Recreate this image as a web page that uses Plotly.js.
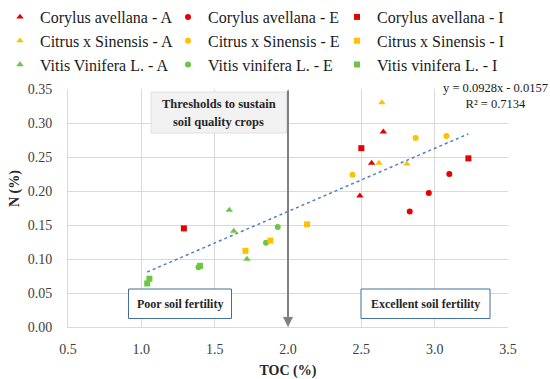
<!DOCTYPE html>
<html>
<head>
<meta charset="utf-8">
<script src="https://cdn.plot.ly/plotly-3.0.1.min.js"></script>
<style>html,body{margin:0;padding:0;background:#fff;}#chart{width:550px;height:379px;}</style>
</head>
<body>
<div id="chart"></div>
<script>
// ---- data ----
var seriesNames = [
  "Corylus avellana - A", "Citrus x Sinensis - A", "Vitis Vinifera L. - A",
  "Corylus avellana - E", "Citrus x Sinensis - E", "Vitis vinifera L. - E",
  "Corylus avellana - I", "Citrus x Sinensis - I", "Vitis vinifera L. - I"
];
var corylusA_x = [2.49, 2.57, 2.65];  var corylusA_y = [0.193, 0.241, 0.287];
var citrusA_x  = [2.62, 2.64, 2.81];  var citrusA_y  = [0.241, 0.330, 0.240];
var vitisA_x   = [1.60, 1.63, 1.72];  var vitisA_y   = [0.172, 0.141, 0.100];
var corylusE_x = [2.83, 2.96, 3.10];  var corylusE_y = [0.170, 0.197, 0.225];
var citrusE_x  = [2.44, 2.87, 3.08];  var citrusE_y  = [0.224, 0.278, 0.281];
var vitisE_x   = [1.39, 1.85, 1.93];  var vitisE_y   = [0.088, 0.124, 0.147];
var corylusI_x = [1.29, 2.50, 3.23];  var corylusI_y = [0.145, 0.263, 0.248];
var citrusI_x  = [1.71, 1.88, 2.13];  var citrusI_y  = [0.112, 0.127, 0.151];
var vitisI_x   = [1.04, 1.055, 1.40]; var vitisI_y   = [0.064, 0.071, 0.090];
var trendSlope = 0.0928;
var trendIntercept = -0.0157;
var trendR2 = 0.7134;
var thresholdTOC = 2.0;
var xTicks = [0.5, 1.0, 1.5, 2.0, 2.5, 3.0, 3.5];
var yTicks = [0.00, 0.05, 0.10, 0.15, 0.20, 0.25, 0.30, 0.35];

// ---- styling ----
var RED = "#e60000", YEL = "#ffc000", GRN = "#6cc644";
var FONT = '"Liberation Serif", "DejaVu Serif", serif';

var xs = [corylusA_x, citrusA_x, vitisA_x, corylusE_x, citrusE_x, vitisE_x, corylusI_x, citrusI_x, vitisI_x];
var ys = [corylusA_y, citrusA_y, vitisA_y, corylusE_y, citrusE_y, vitisE_y, corylusI_y, citrusI_y, vitisI_y];
var colors = [RED, YEL, GRN, RED, YEL, GRN, RED, YEL, GRN];
var symbols = ["triangle-up","triangle-up","triangle-up","circle","circle","circle","square","square","square"];
var sizes = [6.5, 6.5, 6.5, 6, 6, 6, 6, 6, 6];
var legends = ["legend","legend","legend","legend2","legend2","legend2","legend3","legend3","legend3"];

var traces = [];
for (var i = 0; i < seriesNames.length; i++) {
  traces.push({
    type: "scatter", mode: "markers", name: seriesNames[i],
    x: xs[i], y: ys[i], legend: legends[i],
    marker: {color: colors[i], symbol: symbols[i], size: sizes[i], line: {width: 0}}
  });
}
// linear trendline over the data range
var allX = [].concat.apply([], xs);
var xMin = Math.min.apply(null, allX), xMax = Math.max.apply(null, allX);
traces.push({
  type: "scatter", mode: "lines", showlegend: false, hoverinfo: "skip",
  x: [xMin, xMax],
  y: [trendSlope * xMin + trendIntercept, trendSlope * xMax + trendIntercept],
  line: {color: "#4f81bd", width: 1.5, dash: "dot"}
});

var FW = 550, FH = 379;
var L = 68, R = 42, T = 89, B = 52;
var W = FW - L - R, H = FH - T - B;
function px2x(p) { return (p - L) / W; }
function px2y(p) { return 1 - (p - T) / H; }

var legendCommon = {
  orientation: "v", xref: "container", yref: "container",
  yanchor: "top", xanchor: "left", y: 1 + 6 / FH,
  bgcolor: "rgba(0,0,0,0)", borderwidth: 0,
  font: {family: FONT, size: 16, color: "#1a1a1a"}, tracegroupgap: 0
};
function legendAt(leftPx) {
  var o = JSON.parse(JSON.stringify(legendCommon));
  o.x = leftPx / FW;
  return o;
}

var boxLine = "#41719c";
var layout = {
  width: FW, height: FH,
  margin: {l: L, r: R, t: T, b: B, pad: 0, autoexpand: false},
  paper_bgcolor: "#fff", plot_bgcolor: "#fff",
  font: {family: FONT, color: "#404040"},
  showlegend: true,
  legend: legendAt(0),
  legend2: legendAt(168),
  legend3: legendAt(337),
  xaxis: {
    range: [0.5, 3.5], tickvals: xTicks, tickformat: ".1f",
    showgrid: true, gridcolor: "#d9d9d9", gridwidth: 1,
    zeroline: false, showline: true, linecolor: "#d9d9d9", linewidth: 1,
    ticks: "", ticklabelstandoff: 9,
    tickfont: {family: FONT, size: 14, color: "#404040"},
    title: {text: "<b>TOC (%)</b>", font: {family: FONT, size: 14, color: "#262626"}, standoff: 10}
  },
  yaxis: {
    range: [0, 0.35], tickvals: yTicks, tickformat: ".2f",
    showgrid: true, gridcolor: "#d9d9d9", gridwidth: 1,
    zeroline: false, showline: true, linecolor: "#d9d9d9", linewidth: 1,
    ticks: "", ticklabelstandoff: 12,
    tickfont: {family: FONT, size: 14, color: "#404040"}
  },
  shapes: [
    {type: "rect", xref: "paper", yref: "paper", x0: px2x(151), x1: px2x(286.5), y0: px2y(133), y1: px2y(92),
     fillcolor: "#f2f2f2", line: {color: "#e0e0e0", width: 1}, layer: "above"},
    {type: "rect", xref: "paper", yref: "paper", x0: px2x(128.5), x1: px2x(231.5), y0: px2y(318.5), y1: px2y(289),
     fillcolor: "#ffffff", line: {color: boxLine, width: 1}, layer: "above"},
    {type: "rect", xref: "paper", yref: "paper", x0: px2x(361), x1: px2x(490), y0: px2y(318.5), y1: px2y(289),
     fillcolor: "#ffffff", line: {color: boxLine, width: 1}, layer: "above"}
  ],
  annotations: [
    {xref: "x", yref: "y", axref: "x", ayref: "y", x: thresholdTOC, y: 0, ax: thresholdTOC, ay: 0.35,
     text: "", showarrow: true, arrowhead: 2, arrowsize: 1, arrowwidth: 2, arrowcolor: "#7f7f7f", standoff: 0},
    {xref: "paper", yref: "paper", x: px2x(15), y: px2y(189), xanchor: "center", yanchor: "middle", textangle: -90,
     text: "<b>N (%)</b>", showarrow: false, font: {family: FONT, size: 14, color: "#262626"}},
    {xref: "paper", yref: "paper", x: px2x(218.5), y: px2y(104), xanchor: "center", yanchor: "middle",
     text: "<b>Thresholds to sustain</b>", showarrow: false, font: {family: FONT, size: 12.5, color: "#262626"}},
    {xref: "paper", yref: "paper", x: px2x(218.5), y: px2y(122), xanchor: "center", yanchor: "middle",
     text: "<b>soil quality crops</b>", showarrow: false, font: {family: FONT, size: 12.5, color: "#262626"}},
    {xref: "paper", yref: "paper", x: px2x(180), y: px2y(304), xanchor: "center", yanchor: "middle",
     text: "<b>Poor soil fertility</b>", showarrow: false, font: {family: FONT, size: 12, color: "#262626"}},
    {xref: "paper", yref: "paper", x: px2x(425.5), y: px2y(304), xanchor: "center", yanchor: "middle",
     text: "<b>Excellent soil fertility</b>", showarrow: false, font: {family: FONT, size: 12, color: "#262626"}},
    {xref: "paper", yref: "paper", x: px2x(495), y: px2y(96), xanchor: "center", yanchor: "middle",
     text: "y = " + trendSlope.toFixed(4) + "x - " + Math.abs(trendIntercept).toFixed(4) + "<br>R² = " + trendR2.toFixed(4),
     showarrow: false, font: {family: FONT, size: 12.5, color: "#1a1a1a"}}
  ]
};

Plotly.newPlot("chart", traces, layout, {staticPlot: true, displayModeBar: false});
</script>
</body>
</html>
